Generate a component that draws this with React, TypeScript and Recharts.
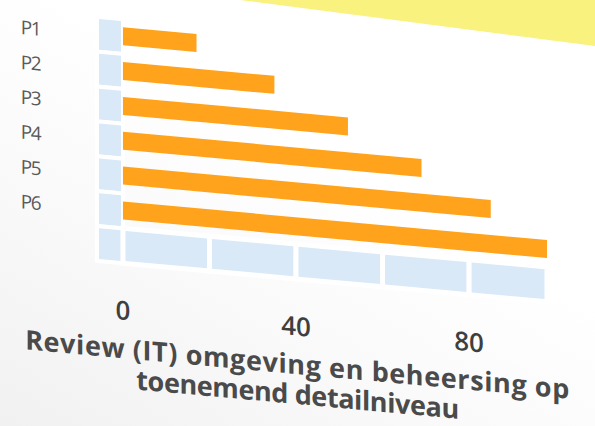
import React from 'react';
import { BarChart, Bar, XAxis, YAxis, ReferenceArea } from 'recharts';

const categories = ['P1', 'P2', 'P3', 'P4', 'P5', 'P6', ' '];
const values: (number | null)[] = [17, 35, 52, 69, 85, 98, null];
const xTicks = [0, 40, 80];
const xDomain: [number, number] = [-6, 98];
const bandBreaks = [0, 20, 40, 60, 80, 98];
const titleLines = ['Review (IT) omgeving en beheersing op', 'toenemend detailniveau'];

const data = categories.map((c, i) => ({ cat: c, value: values[i] }));

const ORANGE = '#ffa31c';
const LIGHT = '#d9e9f8';
const lastCat = categories[categories.length - 1];

export default function App() {
  return (
    <div
      style={{
        position: 'fixed',
        left: 0,
        top: 0,
        width: 595,
        height: 426,
        overflow: 'hidden',
        background: 'linear-gradient(30deg, #f1f1f1 0%, #fafafa 35%, #ffffff 60%)',
      }}
    >
      <svg width={595} height={426} style={{ position: 'absolute', left: 0, top: 0 }}>
        <polygon points="240,0 595,0 595,46" fill="#faf27e" />
      </svg>
      <div style={{ position: 'absolute', left: 0, top: 0, width: 595, height: 426, transform: 'skewY(5.2deg)', transformOrigin: '0 0' }}>
        <BarChart
          width={595}
          height={426}
          data={data}
          layout="vertical"
          margin={{ top: 8, right: 48, left: 0, bottom: 114 }}
        >
          <XAxis
            type="number"
            domain={xDomain}
            ticks={xTicks}
            allowDataOverflow
            axisLine={false}
            tickLine={false}
            tickSize={0}
            tickMargin={38}
            height={60}
            tick={{ fontSize: 26, fill: '#3f3f3f', fontFamily: 'Open Sans', fontWeight: 600 }}
          />
          <YAxis
            type="category"
            dataKey="cat"
            width={97}
            axisLine={false}
            tickLine={false}
            tickSize={0}
            tickMargin={57}
            tick={{ fontSize: 19, fill: '#5a5a5a', fontFamily: 'Open Sans', letterSpacing: -1.5 }}
          />
          {categories.map((c) => (
            <ReferenceArea
              key={'col-' + c}
              x1={xDomain[0]}
              x2={0}
              y1={c}
              y2={c}
              fill={LIGHT}
              fillOpacity={1}
              stroke="#ffffff"
              strokeWidth={4}
            />
          ))}
          {bandBreaks.slice(0, -1).map((b, i) => (
            <ReferenceArea
              key={'row-' + b}
              x1={b}
              x2={bandBreaks[i + 1]}
              y1={lastCat}
              y2={lastCat}
              fill={LIGHT}
              fillOpacity={1}
              stroke="#ffffff"
              strokeWidth={5}
            />
          ))}
          <Bar dataKey="value" fill={ORANGE} barSize={18} isAnimationActive={false} />
        </BarChart>
        <div
          style={{
            position: 'absolute',
            left: 0,
            top: 322,
            width: 595,
            textAlign: 'center',
            fontFamily: 'Open Sans',
            fontWeight: 700,
            fontSize: 27,
            lineHeight: '30px',
            color: '#4a4a4a',
          }}
        >
          <div style={{ letterSpacing: 0.6 }}>{titleLines[0]}</div>
          <div style={{ letterSpacing: -0.4 }}>{titleLines[1]}</div>
        </div>
      </div>
    </div>
  );
}
